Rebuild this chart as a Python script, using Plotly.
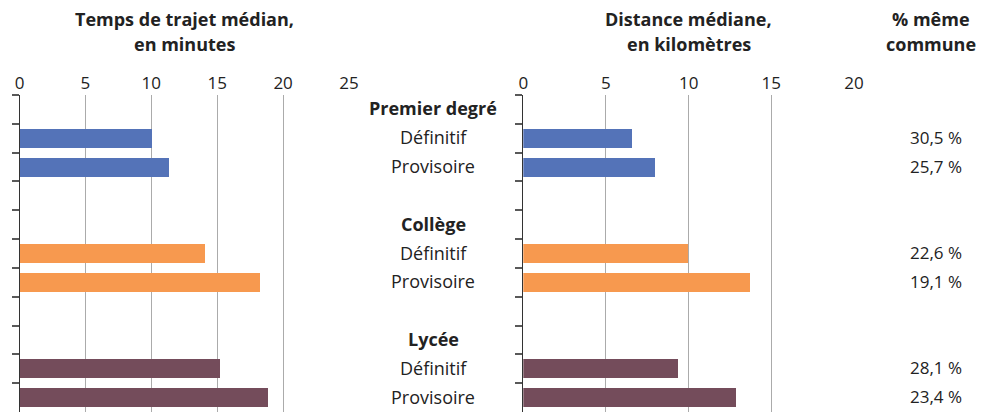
import plotly.graph_objects as go

# ---------------- data ----------------
groups = ["Premier degré", "Collège", "Lycée"]
statuts = ["Définitif", "Provisoire"]
group_colors = ["#5473B8", "#F7994F", "#744C5B"]

# median travel time (minutes): [Définitif, Provisoire] per group
temps_premier = [10.0, 11.3]
temps_college = [14.0, 18.2]
temps_lycee = [15.2, 18.8]

# median distance (km)
distance_premier = [6.6, 8.0]
distance_college = [10.0, 13.7]
distance_lycee = [9.4, 12.9]

# % same commune
pct_premier = ["30,5 %", "25,7 %"]
pct_college = ["22,6 %", "19,1 %"]
pct_lycee = ["28,1 %", "23,4 %"]

temps_ticks = [0, 5, 10, 15, 20, 25]
distance_ticks = [0, 5, 10, 15, 20]

temps = [temps_premier, temps_college, temps_lycee]
distance = [distance_premier, distance_college, distance_lycee]
pcts = [pct_premier, pct_college, pct_lycee]

# category rows (header, Définitif, Provisoire, blank separator)
rows = []
for i, g in enumerate(groups):
    rows.append(g)
    for s in statuts:
        rows.append(g + " | " + s)
    if i < len(groups) - 1:
        rows.append("sep%d" % i)

FONT = "Open Sans"
TXT = "#222222"
W, H = 986, 412
OFF = 8  # page body margin offset
TOP = 95 - OFF
BOT = 8
PH = H - TOP - BOT  # plot area height


def px_x(p):
    return (p - OFF) / W


def px_y(p):
    # picture pixel (from top) -> paper y
    return (H - BOT - (p - OFF)) / PH


fig = go.Figure()
for gi, g in enumerate(groups):
    ycats = [g + " | " + s for s in statuts]
    fig.add_trace(go.Bar(x=temps[gi], y=ycats, orientation="h",
                         marker=dict(color=group_colors[gi], line=dict(width=0)),
                         width=0.66, xaxis="x", yaxis="y", showlegend=False,
                         hoverinfo="x+y"))
    fig.add_trace(go.Bar(x=distance[gi], y=ycats, orientation="h",
                         marker=dict(color=group_colors[gi], line=dict(width=0)),
                         width=0.66, xaxis="x2", yaxis="y2", showlegend=False,
                         hoverinfo="x+y"))

left_dom = [px_x(19.5), px_x(349)]
right_dom = [px_x(523.3), px_x(854)]
mid_x = px_x(433)
pct_title_x = px_x(931)
pct_x = px_x(936)

xcommon = dict(side="top", showgrid=True, gridcolor="#ABABAB", gridwidth=1,
               zeroline=False, showline=False, ticks="", automargin=False,
               ticklabelstandoff=2,
               tickfont=dict(family=FONT, size=17, color=TXT), fixedrange=True)
ycommon = dict(type="category", categoryorder="array", categoryarray=rows,
               range=[len(rows) - 0.5, -0.5], showticklabels=False,
               tickson="boundaries", ticks="outside", ticklen=7, tickwidth=1.5,
               tickcolor="#595959", showline=True, linecolor="#333333",
               linewidth=1, showgrid=False, zeroline=False, fixedrange=True,
               automargin=False)

fig.update_layout(
    width=W, height=H,
    margin=dict(l=0, r=0, t=TOP, b=BOT, autoexpand=False),
    paper_bgcolor="white", plot_bgcolor="white",
    bargap=0,
    xaxis=dict(domain=left_dom, range=[0, 25], tickvals=temps_ticks,
               anchor="y", **xcommon),
    xaxis2=dict(domain=right_dom, range=[0, 20], tickvals=distance_ticks,
                anchor="y2", **xcommon),
    yaxis=dict(domain=[0, 1], anchor="x", **ycommon),
    yaxis2=dict(domain=[0, 1], anchor="x2", **ycommon),
    font=dict(family=FONT, color=TXT),
)

ann = []
# column titles, two lines each
titles = [(["Temps de trajet médian,", "en minutes"], (left_dom[0] + left_dom[1]) / 2),
          (["Distance médiane,", "en kilomètres"], (right_dom[0] + right_dom[1]) / 2),
          (["% même", "commune"], pct_title_x)]
for lines, x in titles:
    for li, line in enumerate(lines):
        ann.append(dict(text="<b>" + line + "</b>", x=x, y=px_y(19 + 25 * li),
                        xref="paper", yref="paper", xanchor="center",
                        yanchor="middle", showarrow=False, borderpad=0,
                        font=dict(family=FONT, size=18, color=TXT)))

# middle labels and percentages
for gi, g in enumerate(groups):
    ann.append(dict(text="<b>" + g + "</b>", x=mid_x, y=g, xref="paper", yref="y",
                    xanchor="center", yanchor="middle", showarrow=False,
                    yshift=1, font=dict(family=FONT, size=18, color=TXT)))
    for si, s in enumerate(statuts):
        cat = g + " | " + s
        ann.append(dict(text=s, x=mid_x, y=cat, xref="paper", yref="y",
                        xanchor="center", yanchor="middle", showarrow=False,
                        yshift=1, font=dict(family=FONT, size=18, color=TXT)))
        ann.append(dict(text=pcts[gi][si], x=pct_x, y=cat, xref="paper", yref="y",
                        xanchor="center", yanchor="middle", showarrow=False,
                        yshift=1, font=dict(family=FONT, size=17, color=TXT)))

fig.update_layout(annotations=ann)
fig.write_html("out.html")
